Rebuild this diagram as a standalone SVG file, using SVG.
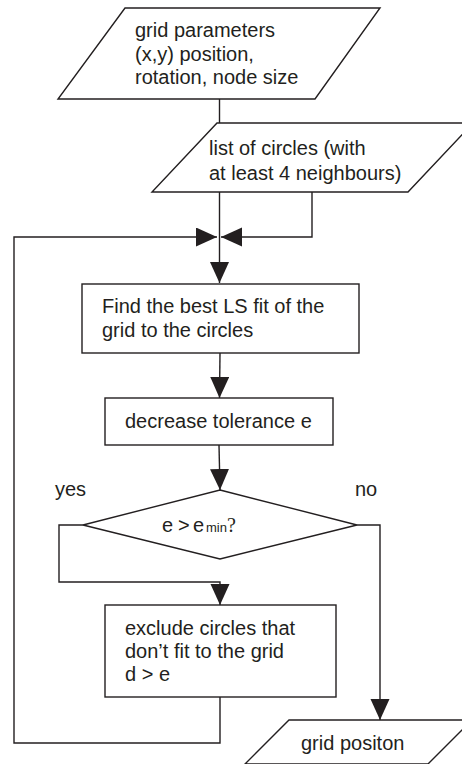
<svg xmlns="http://www.w3.org/2000/svg" width="462" height="764" viewBox="0 0 462 764">
<defs>
<style>
.sh{fill:#fff;stroke:#231f20;stroke-width:1.4}
.ln{fill:none;stroke:#231f20;stroke-width:1.4}
.t{font-family:"Liberation Sans",Arial,sans-serif;font-size:20px;fill:#231f20}
.s{font-size:13px}
.q{font-family:"Liberation Serif","Times New Roman",serif;font-size:20px}
</style>
<marker id="ah" markerUnits="userSpaceOnUse" markerWidth="22" markerHeight="20" refX="21" refY="9.5" orient="auto" viewBox="0 0 22 20">
<path d="M0,0 L21,9.5 L0,19 Z" fill="#231f20"/>
</marker>
</defs>
<rect width="462" height="764" fill="#fff"/>
<g id="connectors">
<path class="ln" d="M219.5,99 V123"/>
<path class="ln" d="M219.5,192 V283" marker-end="url(#ah)"/>
<path class="ln" d="M312,192 V237 H221" marker-end="url(#ah)"/>
<path class="ln" d="M220,697 V743 H14 V237 H217" marker-end="url(#ah)"/>
<path class="ln" d="M220,353 L219.5,398" marker-end="url(#ah)"/>
<path class="ln" d="M219,445 L220,490" marker-end="url(#ah)"/>
<path class="ln" d="M83,525 H59 V582 H220 V605" marker-end="url(#ah)"/>
<path class="ln" d="M357,525 H380 V720" marker-end="url(#ah)"/>
</g>
<g id="grid-parameters">
<polygon class="sh" points="125,8 380,8 315,99 58,99"/>
<text class="t" x="135" y="37">grid parameters</text>
<text class="t" x="135" y="60.5">(x,y) position,</text>
<text class="t" x="135" y="84">rotation, node size</text>
</g>
<g id="list-of-circles">
<polygon class="sh" points="217,123 473,123 408,192 152,192"/>
<text class="t" x="209" y="154.5">list of circles (with</text>
<text class="t" x="209" y="179.5">at least 4 neighbours)</text>
</g>
<g id="ls-fit">
<rect class="sh" x="82" y="284" width="277" height="69"/>
<text class="t" x="102" y="313">Find the best LS fit of the</text>
<text class="t" x="102" y="337">grid to the circles</text>
</g>
<g id="decrease-tolerance">
<rect class="sh" x="105" y="398" width="228" height="47"/>
<text class="t" x="125" y="427.5">decrease tolerance e</text>
</g>
<g id="decision">
<polygon class="sh" points="220,490 357,525 220,559 83,525"/>
<text class="t" x="162" y="532">e<tspan x="178">&gt;</tspan><tspan x="193">e</tspan><tspan class="s" x="206">min</tspan><tspan class="q" x="227">?</tspan></text>
<text class="t" x="55" y="496">yes</text>
<text class="t" x="355" y="496">no</text>
</g>
<g id="exclude-circles">
<rect class="sh" x="105" y="605" width="231" height="92"/>
<text class="t" x="125" y="635">exclude circles that</text>
<text class="t" x="125" y="657.5">don’t fit to the grid</text>
<text class="t" x="125" y="681">d &gt; e</text>
</g>
<g id="grid-position">
<polygon class="sh" points="289,720 472,720 428,764 245,764"/>
<text class="t" x="301" y="750">grid positon</text>
</g>
</svg>
